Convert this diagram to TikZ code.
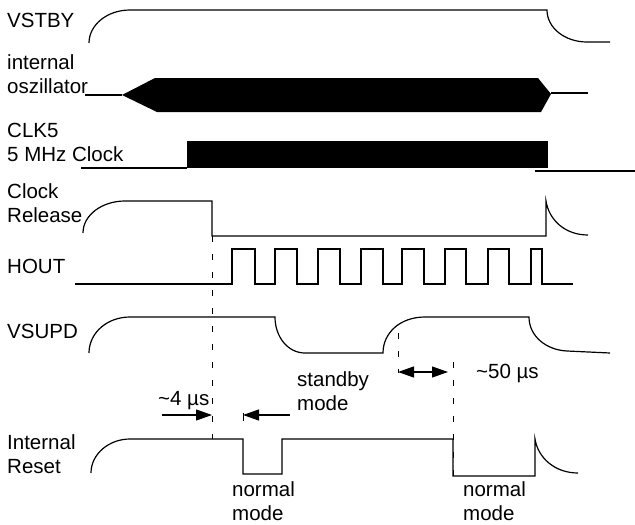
\documentclass[tikz,border=0pt]{standalone}
\usepackage{fontspec}
\setmainfont{Liberation Sans}
\usetikzlibrary{arrows.meta}
\tikzset{
	sig/.style={line width=1.2pt},
	lbl/.style={anchor=base west, inner sep=0pt, align=left, font=\fontsize{20.5}{23.5}\selectfont},
	guide/.style={line width=1pt, dash pattern=on 6pt off 12pt},
	dim/.style={line width=1.2pt, -{Triangle[length=16pt,width=11pt]}},
	dimboth/.style={line width=1.2pt, {Triangle[length=16pt,width=11pt]}-{Triangle[length=16pt,width=11pt]}}
}

\begin{document}
\begin{tikzpicture}[x=1pt, y=-1pt]
		%%%%% START %%%%%
		\useasboundingbox (0,0) rectangle (635,525);
		
		% signal names (multi-line: base is the last line)
		\node[lbl] (vstby) at (7,27) {VSTBY};
		\node[lbl] (osc) at (7,93) {internal\\oszillator};
		\node[lbl] (clk) at (7,161) {CLK5\\5 MHz Clock};
		\node[lbl] (release) at (7,222) {Clock\\Release};
		\node[lbl] (hout) at (7,273) {HOUT};
		\node[lbl] (vsupd) at (7,338) {VSUPD};
		\node[lbl] (reset) at (7,473) {Internal\\Reset};
		
		% VSTBY
		\draw[sig] (89,43) .. controls (89,25) and (107,10) .. (130,10) -- (547,10)
			.. controls (547,28) and (565,42) .. (587,42) -- (610,42);
		
		% internal oszillator
		\draw[sig] (85,95) -- (122,95);
		\fill (122,95) -- (155,78) -- (538,78) -- (551,94) -- (541,112) -- (157,112) -- cycle;
		\draw[sig] (551,93) -- (588,93);
		
		% CLK5
		\draw[sig] (81,168) -- (187,168);
		\fill (187,141) rectangle (548,168);
		\draw[line width=2pt] (535,171) -- (635,171);
		
		% Clock Release
		\draw[sig] (83,233) .. controls (83,215) and (102,201) .. (125,201) -- (212,201) -- (212,236)
			-- (546,236) -- (546,201) .. controls (549,220) and (565,235) .. (588,235);
		
		% HOUT
		\draw[sig] (75,284) \foreach \r/\f in {232/255,275/297,318/340,361/383,402/424,445/466,488/509,531/542} {
			-- (\r,284) -- (\r,249) -- (\f,249) -- (\f,284) } -- (573,284);
		
		% VSUPD
		\draw[sig] (89,353) .. controls (89,333) and (107,317) .. (130,317) -- (275,317)
			.. controls (275,337) and (288,353) .. (305,353) -- (383,353)
			.. controls (383,333) and (400,317) .. (425,317) -- (529,317)
			.. controls (529,336) and (546,350) .. (567,351) -- (610,353);
		
		% Internal Reset
		\draw[sig] (91,473) .. controls (91,454) and (109,439) .. (130,439) -- (243,439) -- (243,474)
			-- (282,474) -- (282,439) -- (453,439) -- (453,476) -- (535,476) -- (535,439)
			.. controls (538,458) and (555,473) .. (578,473);
		
		% timing marks
		\coordinate (g1a) at (212,236);
		\coordinate (g1b) at (212,439);
		\coordinate (g2a) at (398,333);
		\coordinate (g2b) at (398,373);
		\coordinate (g3a) at (453,362);
		\coordinate (g3b) at (453,476);
		\draw[guide] (g1a) -- (g1b);
		\draw[guide] (g2a) -- (g2b);
		\draw[guide] (g3a) -- (g3b);
		
		\coordinate (a1) at (162,415);
		\coordinate (a1t) at (212,415);
		\coordinate (a2) at (290,415);
		\coordinate (a2t) at (243,415);
		\draw[dim] (a1) -- (a1t);
		\draw[dim] (a2) -- (a2t);
		\draw[line width=1pt] (243,413) -- (243,421);
		\coordinate (a3) at (398,372);
		\coordinate (a3t) at (448,372);
		\draw[dimboth] (a3) -- (a3t);
		
		\node[lbl] (t4) at (158,405) {\textasciitilde4 µs};
		\node[lbl] (t50) at (476,378) {\textasciitilde50 µs};
		\node[lbl] (stby) at (297,410) {standby\\mode};
		\node[lbl] (norm1) at (232,520) {normal\\mode};
		\node[lbl] (norm2) at (463,520) {normal\\mode};
		
		%%%%% END %%%%%
\end{tikzpicture}
\end{document}
